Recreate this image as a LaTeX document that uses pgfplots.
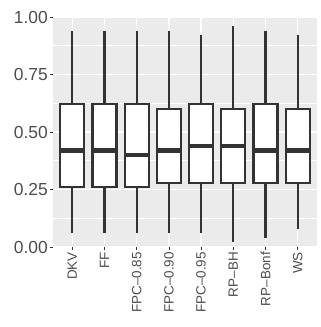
\documentclass[border=0pt]{standalone}
\usepackage{pgfplots}
\pgfplotsset{compat=1.18}
\usepgfplotslibrary{statistics}
\usepackage{fontspec}
\setmainfont{Liberation Sans}
\definecolor{panelbg}{HTML}{EBEBEB}
\definecolor{boxline}{HTML}{333333}
\definecolor{ticktext}{HTML}{4D4D4D}

\pgfplotsset{
  ggbox/.style={draw=boxline, fill=white, line width=2.2bp,
    boxplot/every median/.style={line width=4.4bp}},
}

\begin{document}
\begin{tikzpicture}
\begin{axis}[
  scale only axis, width=264bp, height=230bp,
  xmin=0.4, xmax=8.6, ymin=0, ymax=1,
  axis background/.style={fill=panelbg},
  axis line style={draw=none},
  xtick={1,2,3,4,5,6,7,8},
  xticklabels={DKV,FF,FPC--0.85,FPC--0.90,FPC--0.95,RP--BH,RP--Bonf,WS},
  ytick={0,0.25,0.5,0.75,1},
  yticklabels={0.00,0.25,0.50,0.75,1.00},
  minor ytick={0.125,0.375,0.625,0.875},
  grid=both,
  major grid style={white, line width=1.4bp},
  minor grid style={white, line width=0.7bp},
  tick pos=left, tick align=outside,
  major tick length=3bp, minor tick length=0pt,
  tick style={boxline, line width=0.8bp},
  xticklabel style={rotate=90, anchor=east, font=\fontsize{13.5}{13.5}\selectfont, text=ticktext, inner sep=2bp},
  yticklabel style={font=\fontsize{17.5}{17.5}\selectfont, text=ticktext, inner sep=2bp},
  boxplot/draw direction=y,
  boxplot/box extend=0.75, boxplot/whisker extend=0,
]
% DKV
\addplot[ggbox, boxplot prepared={draw position=1, lower whisker=0.06, lower quartile=0.26, median=0.42, upper quartile=0.62, upper whisker=0.94}] coordinates {};
% FF
\addplot[ggbox, boxplot prepared={draw position=2, lower whisker=0.06, lower quartile=0.26, median=0.42, upper quartile=0.62, upper whisker=0.94}] coordinates {};
% FPC-0.85
\addplot[ggbox, boxplot prepared={draw position=3, lower whisker=0.06, lower quartile=0.26, median=0.40, upper quartile=0.62, upper whisker=0.94}] coordinates {};
% FPC-0.90
\addplot[ggbox, boxplot prepared={draw position=4, lower whisker=0.06, lower quartile=0.28, median=0.42, upper quartile=0.60, upper whisker=0.94}] coordinates {};
% FPC-0.95
\addplot[ggbox, boxplot prepared={draw position=5, lower whisker=0.06, lower quartile=0.28, median=0.44, upper quartile=0.62, upper whisker=0.92}] coordinates {};
% RP-BH
\addplot[ggbox, boxplot prepared={draw position=6, lower whisker=0.02, lower quartile=0.28, median=0.44, upper quartile=0.60, upper whisker=0.96}] coordinates {};
% RP-Bonf
\addplot[ggbox, boxplot prepared={draw position=7, lower whisker=0.04, lower quartile=0.28, median=0.42, upper quartile=0.62, upper whisker=0.94}] coordinates {};
% WS
\addplot[ggbox, boxplot prepared={draw position=8, lower whisker=0.08, lower quartile=0.28, median=0.42, upper quartile=0.60, upper whisker=0.92}] coordinates {};
\end{axis}
\pgfresetboundingbox
\path ([shift={(-53bp,-80bp)}]current axis.south west) rectangle ([shift={(4bp,17bp)}]current axis.north east);
\end{tikzpicture}
\end{document}
